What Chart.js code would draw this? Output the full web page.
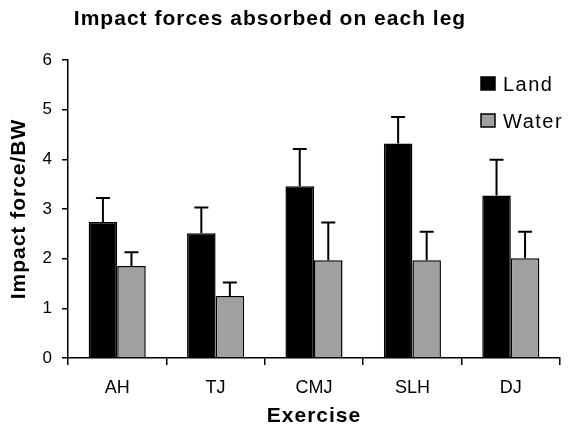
<!DOCTYPE html>
<html>
<head>
<meta charset="utf-8">
<script src="https://cdn.jsdelivr.net/npm/chart.js@4"></script>
<style>
html,body{margin:0;padding:0;background:#fff;}
canvas{display:block;}
</style>
</head>
<body>
<canvas id="c" width="569" height="431"></canvas>
<script>
const categories = ["AH", "TJ", "CMJ", "SLH", "DJ"];
const landMeans = [2.74, 2.51, 3.46, 4.32, 3.27];
const landSD = [0.48, 0.52, 0.75, 0.53, 0.72];
const waterMeans = [1.85, 1.25, 1.97, 1.97, 2.01];
const waterSD = [0.28, 0.27, 0.76, 0.57, 0.53];
const yTicks = [0, 1, 2, 3, 4, 5, 6];
const chartTitle = 'Impact forces absorbed on each leg';
const xTitle = 'Exercise';
const yTitle = 'Impact force/BW';

const FONT = "'Liberation Sans', Arial, sans-serif";

const errorBars = {
  id: 'errorBars',
  afterDatasetsDraw(chart) {
    const ctx = chart.ctx;
    const ys = chart.scales.y;
    chart.data.datasets.forEach((ds, di) => {
      const meta = chart.getDatasetMeta(di);
      meta.data.forEach((bar, i) => {
        const top = ys.getPixelForValue(ds.data[i] + ds.errors[i]);
        ctx.save();
        ctx.strokeStyle = '#000';
        ctx.lineWidth = 2;
        ctx.beginPath();
        ctx.moveTo(bar.x, bar.y);
        ctx.lineTo(bar.x, top);
        ctx.moveTo(bar.x - 7, top);
        ctx.lineTo(bar.x + 7, top);
        ctx.stroke();
        ctx.restore();
      });
    });
  }
};

const texts = {
  id: 'texts',
  afterDraw(chart) {
    const ctx = chart.ctx;
    const ca = chart.chartArea;
    ctx.save();
    ctx.fillStyle = '#000';
    ctx.letterSpacing = '1px';
    ctx.textAlign = 'center';
    ctx.textBaseline = 'alphabetic';
    // chart title
    ctx.font = 'bold 21px ' + FONT;
    ctx.fillText(chartTitle, 270, 25);
    // x title
    ctx.fillText(xTitle, (ca.left + ca.right) / 2, 422);
    // y title
    ctx.save();
    ctx.translate(25, (ca.top + ca.bottom) / 2);
    ctx.rotate(-Math.PI / 2);
    ctx.fillText(yTitle, 0, 0);
    ctx.restore();
    // legend
    const x0 = 481, ys0 = [77, 114];
    ctx.letterSpacing = '1.5px';
    chart.data.datasets.forEach((ds, i) => {
      const y = ys0[i];
      ctx.fillStyle = ds.backgroundColor;
      ctx.strokeStyle = '#000';
      ctx.lineWidth = 1.5;
      ctx.fillRect(x0, y, 14, 13);
      ctx.strokeRect(x0, y, 14, 13);
      ctx.fillStyle = '#000';
      ctx.font = '20px ' + FONT;
      ctx.textAlign = 'left';
      ctx.fillText(ds.label, 503, y + 14);
    });
    ctx.restore();
  }
};

new Chart(document.getElementById('c'), {
  type: 'bar',
  data: {
    labels: categories,
    datasets: [
      { label: 'Land', data: landMeans, errors: landSD, backgroundColor: '#000000', borderColor: '#000', borderWidth: 1.5 },
      { label: 'Water', data: waterMeans, errors: waterSD, backgroundColor: '#a0a0a0', borderColor: '#000', borderWidth: 1.5 }
    ]
  },
  options: {
    responsive: false,
    animation: false,
    layout: { padding: { left: 0, right: 9, top: 60, bottom: 0 } },
    datasets: { bar: { categoryPercentage: 0.58, barPercentage: 1.0 } },
    plugins: {
      legend: { display: false },
      tooltip: { enabled: false },
      title: { display: false }
    },
    scales: {
      x: {
        afterFit(scale) { scale.height = 73; },
        grid: { display: true, drawOnChartArea: false, drawTicks: true, tickLength: 7, color: '#000', lineWidth: 1.5 },
        border: { display: true, color: '#000', width: 1.5 },
        ticks: { color: '#000', font: { family: FONT, size: 18 }, padding: 12 }
      },
      y: {
        min: 0, max: 6,
        afterFit(scale) { scale.width = 68; },
        afterBuildTicks(scale) { scale.ticks = yTicks.map(v => ({ value: v })); },
        grid: { display: true, drawOnChartArea: false, drawTicks: true, tickLength: 6, color: '#000', lineWidth: 1.5 },
        border: { display: true, color: '#000', width: 1.5 },
        ticks: { color: '#000', font: { family: FONT, size: 17 }, padding: 10 }
      }
    }
  },
  plugins: [errorBars, texts]
});
</script>
</body>
</html>
